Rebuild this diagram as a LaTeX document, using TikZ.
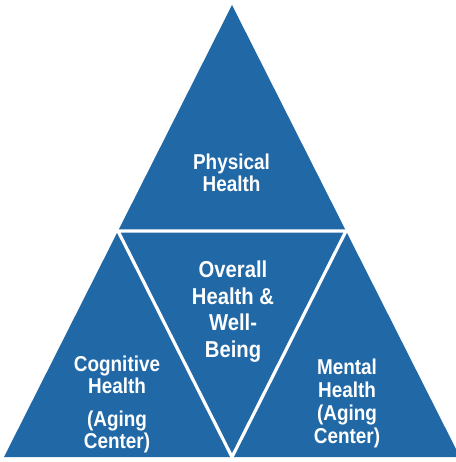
\documentclass[tikz,border=0pt]{standalone}
\usepackage{fontspec}
\newfontfamily\labfont[FakeStretch=0.88]{Liberation Sans}
\definecolor{tri}{RGB}{32,104,166}
\begin{document}
\begin{tikzpicture}[x=1pt,y=-1pt,
  lab/.style={text=white,font=\labfont\bfseries\fontsize{21.5}{22}\selectfont,align=center,inner sep=0pt,anchor=base},
  gap/.style={white,line width=3.2pt,line join=miter}]
\useasboundingbox (0,0) rectangle (455,462);
\coordinate (A) at (232,5);
\coordinate (BL) at (4,457);
\coordinate (BR) at (460,457);
\coordinate (ML) at (118,231);
\coordinate (MR) at (346,231);
\coordinate (MB) at (232,457);
\fill[tri] (A) -- (BL) -- (BR) -- cycle;
\draw[gap] (ML) -- (MR) -- (MB) -- cycle;
\node[lab] (phys) at (231.5,192) {Physical\\Health};
\node[lab,font=\labfont\bfseries\fontsize{23}{26.5}\selectfont] (over) at (233,357) {Overall\\Health \&\\Well-\\Being};
\node[lab] (cog) at (117,448) {Cognitive\\Health\\[11pt](Aging\\Center)};
\node[lab,font=\labfont\bfseries\fontsize{21.5}{22.7}\selectfont] (ment) at (347,443) {Mental\\Health\\(Aging\\Center)};
\end{tikzpicture}
\end{document}
